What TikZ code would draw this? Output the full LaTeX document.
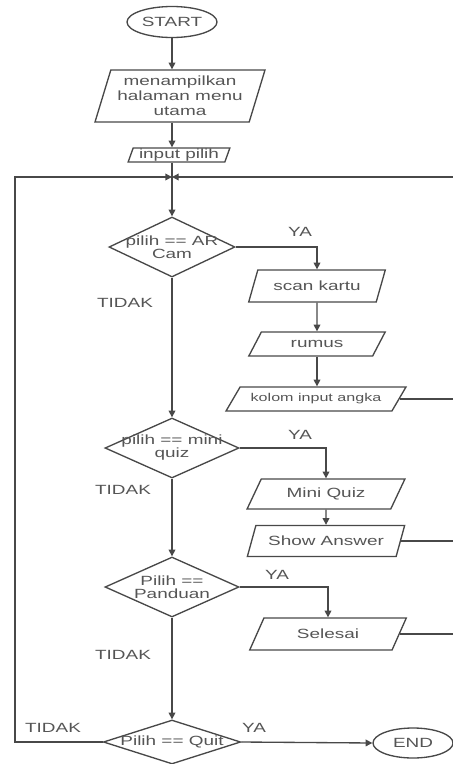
\documentclass[tikz,border=0pt]{standalone}
\usepackage{fontspec}
\setmainfont{Liberation Sans}[FakeStretch=1.42]
\usetikzlibrary{shapes.geometric,arrows.meta,calc}
\definecolor{ln}{RGB}{72,72,72}
\definecolor{tx}{RGB}{85,85,85}
\begin{document}
\begin{tikzpicture}[x=0.75pt,y=-0.75pt,
  every node/.style={text=tx,font=\fontsize{10}{11.25}\selectfont},
  lnk/.style={draw=ln,line width=1pt},
  arr/.style={lnk,-{Triangle[length=5pt,width=5pt]}},
  io/.style={trapezium,trapezium stretches=true,draw=ln,line width=1pt,inner sep=1pt,align=center},
  dia/.style={diamond,draw=ln,line width=1pt,inner sep=0pt},
  term/.style={ellipse,draw=ln,line width=1pt,inner sep=0pt},
  dtext/.style={align=center,font=\fontsize{10}{9.75}\selectfont},
  lab/.style={inner sep=0pt}]
\useasboundingbox (0,0) rectangle (453,764);
% terminals
\node[term,minimum width=67.5pt,minimum height=23.25pt] (start) at (172,22) {START};
\node[term,minimum width=60pt,minimum height=22.5pt] (end) at (413,743) {END};
% input/output
\node[io,trapezium left angle=71,trapezium right angle=109,minimum width=127.5pt,minimum height=39pt] (menu) at (180,96) {menampilkan\\halaman menu\\utama};
\node[io,trapezium left angle=70,trapezium right angle=110,minimum width=76.5pt,minimum height=10.5pt,inner ysep=0pt] (input) at (179,155) {input pilih};
\node[io,trapezium left angle=61,trapezium right angle=119,minimum width=102.75pt,minimum height=24pt] (scan) at (317,286) {scan kartu};
\node[io,trapezium left angle=58,trapezium right angle=122,minimum width=102.75pt,minimum height=18pt] (rumus) at (317,344) {rumus};
\node[io,trapezium left angle=47,trapezium right angle=133,minimum width=135pt,minimum height=18pt,font=\fontsize{8.5}{9}\selectfont] (kolom) at (316,399) {kolom input angka};
\node[io,trapezium left angle=59,trapezium right angle=121,minimum width=118.5pt,minimum height=22.5pt] (mini) at (326,494) {Mini Quiz};
\node[io,trapezium left angle=60,trapezium right angle=120,minimum width=118.5pt,minimum height=23.25pt] (show) at (326,541) {Show Answer};
\node[io,trapezium left angle=60,trapezium right angle=120,minimum width=117.75pt,minimum height=24pt] (selesai) at (328,634) {Selesai};
% decisions
\node[dia,minimum width=94.5pt,minimum height=45pt] (d1) at (172,247) {};
\node[dtext] (d1t) at (d1) {pilih == AR\\Cam};
\node[dia,minimum width=100.5pt,minimum height=45pt] (d2) at (172,448) {};
\node[dtext] (d2t) at (d2) {pilih == mini\\quiz};
\node[dia,minimum width=100.5pt,minimum height=45pt] (d3) at (172,587) {};
\node[dtext] (d3t) at (d3) {Pilih ==\\Panduan};
\node[dia,minimum width=103pt,minimum height=33pt] (d4) at (172,742) {};
\node[dtext] (d4t) at (d4) {Pilih == Quit};
% labels
\node[lab] (ya1) at (300,232) {YA};
\node[lab] (ti1) at (125,303) {TIDAK};
\node[lab] (ya2) at (300,435) {YA};
\node[lab] (ti2) at (123,490) {TIDAK};
\node[lab] (ya3) at (277,575) {YA};
\node[lab] (ti3) at (123,655) {TIDAK};
\node[lab] (ti4) at (53,728) {TIDAK};
\node[lab] (ya4) at (254,728) {YA};
% junction and loop corners
\coordinate (J) at (172,177);
\coordinate (L) at (15,177);
\coordinate (R) at (458,177);
% connectors
\draw[arr] (start.south) -- (start.south |- menu.north);
\draw[arr] (menu.south -| start) -- (input.north -| start);
\draw[lnk] (input.south -| J) -- (J);
\draw[arr] (J) -- (d1.north);
\draw[arr] (d1.south) -- (d2.north);
\draw[arr] (d2.south) -- (d3.north);
\draw[arr] (d3.south) -- (d4.north);
\draw[arr] (d1.east) -| (scan.north);
\draw[arr] (scan.south) -- (rumus.north);
\draw[arr] (rumus.south) -- (rumus.south |- kolom.north);
\draw[arr] (d2.east) -| (mini.north);
\draw[arr] (mini.south) -- (show.north);
\draw[arr] (d3.east) -| (selesai.north);
\draw[arr] (d4.east) -- (end.west);
\draw[arr] (d4.west) -| (L) -- (J);
\draw[lnk] (kolom.right side) -- (kolom.right side -| R);
\draw[lnk] (show.right side) -- (show.right side -| R);
\draw[arr] (selesai.right side) -| (R) -- (J);
\end{tikzpicture}
\end{document}
